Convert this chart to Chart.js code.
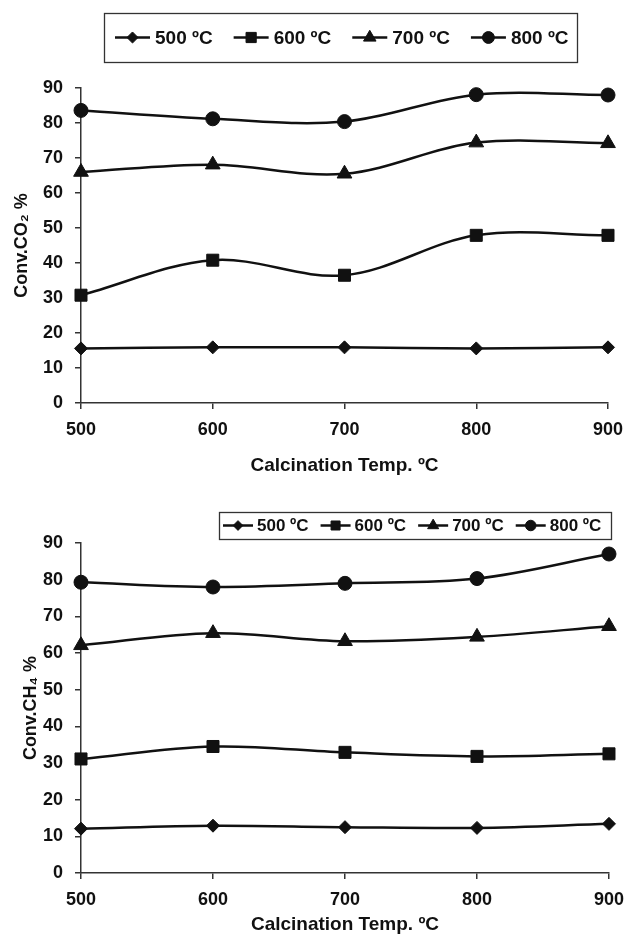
<!DOCTYPE html>
<html>
<head>
<meta charset="utf-8">
<script src="https://cdn.jsdelivr.net/npm/chart.js@4/dist/chart.umd.min.js"></script>
<style>
  html, body { margin: 0; padding: 0; background: #fff; }
  #wrap { position: relative; width: 634px; height: 937px; }
  canvas { position: absolute; left: 0; }
  #co2 { top: 0; }
  #ch4 { top: 480px; }
</style>
</head>
<body>
<div id="wrap">
  <canvas id="co2" width="634" height="480"></canvas>
  <canvas id="ch4" width="634" height="457"></canvas>
</div>
<script>
const FONT = "'Liberation Sans', Arial, Helvetica, sans-serif";
const INK = "#111";

// calcination temperatures (x axis)
const temps = [500, 600, 700, 800, 900];
const seriesLabels = ["500 ºC", "600 ºC", "700 ºC", "800 ºC"];
const markerStyles = ["rectRot", "rect", "triangle", "circle"];

// CO2 conversion %
const co2_500 = [15.6, 15.9, 15.9, 15.6, 15.9];
const co2_600 = [30.8, 40.8, 36.5, 47.9, 47.9];
const co2_700 = [66.0, 68.1, 65.5, 74.4, 74.2];
const co2_800 = [83.6, 81.2, 80.4, 88.1, 88.0];

// CH4 conversion %
const ch4_500 = [12.1, 12.9, 12.5, 12.3, 13.4];
const ch4_600 = [31.1, 34.5, 32.9, 31.8, 32.5];
const ch4_700 = [62.1, 65.4, 63.2, 64.4, 67.3];
const ch4_800 = [79.3, 78.0, 79.0, 80.3, 87.0];

const markerRadius = { rectRot: 6.5, rect: 8.5, triangle: 8.5, circle: 7 };

/* legend drawn as a boxed row: line + marker + label */
const boxLegend = {
  id: "boxLegend",
  afterDraw(chart, args, o) {
    const ctx = chart.ctx;
    ctx.save();
    ctx.strokeStyle = "#333";
    ctx.lineWidth = 1.3;
    ctx.strokeRect(o.box[0] + 0.5, o.box[1] + 0.5, o.box[2], o.box[3]);
    ctx.font = `bold ${o.fontSize}px ${FONT}`;
    ctx.textBaseline = "middle";
    ctx.fillStyle = INK;
    let x = o.start;
    chart.data.datasets.forEach(ds => {
      ctx.strokeStyle = INK;
      ctx.lineWidth = 2.5;
      ctx.beginPath();
      ctx.moveTo(x, o.cy);
      ctx.lineTo(x + o.lineLen, o.cy);
      ctx.stroke();
      ctx.fillStyle = INK;
      ctx.lineWidth = 1;
      const opts = { pointStyle: ds.pointStyle, radius: markerRadius[ds.pointStyle] * o.markerScale, rotation: 0, borderWidth: 1 };
      if (Chart.helpers && Chart.helpers.drawPoint) {
        Chart.helpers.drawPoint(ctx, opts, x + o.lineLen / 2, o.cy);
      }
      const tx = x + o.lineLen + o.gap;
      ctx.fillText(ds.label, tx, o.cy + 1);
      x = tx + ctx.measureText(ds.label).width + o.itemGap;
    });
    ctx.restore();
  }
};

function makeDatasets(values) {
  return values.map((v, i) => ({
    label: seriesLabels[i],
    data: temps.map((t, j) => ({ x: t, y: v[j] })),
    borderColor: INK,
    borderWidth: 2.5,
    backgroundColor: INK,
    pointStyle: markerStyles[i],
    pointRadius: markerRadius[markerStyles[i]],
    pointBackgroundColor: INK,
    pointBorderColor: INK,
    pointBorderWidth: 1,
    tension: 0.35,
    clip: false
  }));
}

function makeChart(id, values, cfg) {
  return new Chart(document.getElementById(id), {
    type: "line",
    data: { datasets: makeDatasets(values) },
    plugins: [boxLegend],
    options: {
      responsive: false,
      animation: false,
      devicePixelRatio: 1,
      layout: { padding: cfg.padding },
      plugins: {
        legend: { display: false },
        tooltip: { enabled: false },
        boxLegend: cfg.legend
      },
      scales: {
        x: {
          type: "linear",
          min: 500, max: 900,
          afterFit: s => { s.height = cfg.xHeight; },
          border: { color: "#333", width: 1.5 },
          grid: { drawOnChartArea: false, drawTicks: true, tickLength: 6, color: "#333", lineWidth: 1.5 },
          ticks: { stepSize: 100, color: INK, padding: cfg.xTickPad, maxRotation: 0, font: { family: FONT, size: 18, weight: "bold" } },
          title: { display: true, text: "Calcination Temp. ºC", color: INK, padding: { top: 0, bottom: cfg.xTitlePad }, font: { family: FONT, size: 19, weight: "bold" } }
        },
        y: {
          min: 0, max: 90,
          afterFit: s => { s.width = 81; },
          border: { color: "#333", width: 1.5 },
          grid: { drawOnChartArea: false, drawTicks: true, tickLength: 6, color: "#333", lineWidth: 1.5 },
          ticks: { stepSize: 10, color: INK, padding: 12, font: { family: FONT, size: 18, weight: "bold" } },
          title: { display: true, text: cfg.yTitle, color: INK, padding: { top: cfg.yTitlePad, bottom: 0 }, font: { family: FONT, size: 18, weight: "bold" } }
        }
      }
    }
  });
}

/* top: CO2 */
makeChart("co2", [co2_500, co2_600, co2_700, co2_800], {
  padding: { top: 88, right: 26, left: 0, bottom: 0 },
  xHeight: 77,
  xTickPad: 10,
  xTitlePad: 3,
  yTitle: "Conv.CO₂ %",
  yTitlePad: 11,
  legend: { box: [104, 13, 473, 49], cy: 37.5, start: 115, lineLen: 35, gap: 5, itemGap: 21, fontSize: 19, markerScale: 0.85 }
});

/* bottom: CH4 */
makeChart("ch4", [ch4_500, ch4_600, ch4_700, ch4_800], {
  padding: { top: 63, right: 14, left: 0, bottom: 0 },
  xHeight: 64,
  xTickPad: 10,
  xTitlePad: 1,
  yTitle: "Conv.CH₄ %",
  yTitlePad: 20,
  legend: { box: [219, 32, 392, 27], cy: 45.5, start: 223, lineLen: 30, gap: 4, itemGap: 12, fontSize: 17, markerScale: 0.75 }
});
</script>
</body>
</html>
